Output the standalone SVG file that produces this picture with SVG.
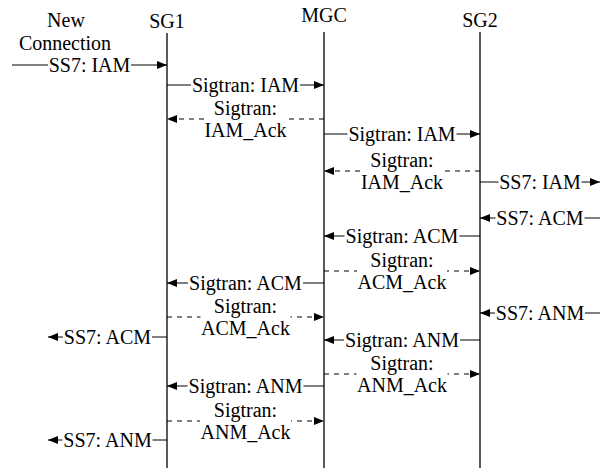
<svg xmlns="http://www.w3.org/2000/svg" width="611" height="468" viewBox="0 0 611 468">
<style>
text{font-family:"Liberation Serif","Times New Roman",serif;font-size:20px;fill:#000;text-anchor:middle}
.life{stroke:#000;stroke-width:1.3;fill:none}
.msg{stroke:#000;stroke-width:1;fill:none;marker-end:url(#ah)}
.dash{stroke-dasharray:5,5}
.bg{fill:#fff;stroke:none}
</style>
<defs>
<marker id="ah" markerUnits="userSpaceOnUse" markerWidth="10" markerHeight="8" refX="10" refY="4" orient="auto">
<path d="M0,0 L10,4 L0,8 z" fill="#000"/>
</marker>
</defs>
<rect width="611" height="468" fill="#fff"/>
<g id="node-new-connection">
<text x="66" y="27">New</text>
<text x="65" y="50">Connection</text>
</g>
<g id="node-sg1">
<text x="167" y="28">SG1</text>
<line class="life" x1="167" y1="33" x2="167" y2="468"/>
</g>
<g id="node-mgc">
<text x="324" y="22">MGC</text>
<line class="life" x1="324" y1="32" x2="324" y2="468"/>
</g>
<g id="node-sg2">
<text x="480" y="27">SG2</text>
<line class="life" x1="480" y1="32" x2="480" y2="468"/>
</g>
<g id="connectors">
<g><line class="msg" x1="12" y1="65" x2="167" y2="65"/><rect class="bg" x="48" y="55" width="83" height="20"/><text x="89.5" y="71.5">SS7: IAM</text></g>
<g><line class="msg" x1="167" y1="85" x2="324" y2="85"/><rect class="bg" x="191" y="75" width="109" height="20"/><text x="245.5" y="91.5">Sigtran: IAM</text></g>
<g><line class="msg dash" x1="324" y1="119" x2="167" y2="119"/><rect class="bg" x="204" y="100" width="84" height="42"/><text x="245.5" y="114.5">Sigtran:</text><text x="245.5" y="136.5">IAM_Ack</text></g>
<g><line class="msg" x1="324" y1="134" x2="480" y2="134"/><rect class="bg" x="347.5" y="124" width="109" height="20"/><text x="402" y="140.5">Sigtran: IAM</text></g>
<g><line class="msg dash" x1="480" y1="171" x2="324" y2="171"/><rect class="bg" x="360" y="152" width="84" height="42"/><text x="402" y="166.5">Sigtran:</text><text x="402" y="188.5">IAM_Ack</text></g>
<g><line class="msg" x1="480" y1="182" x2="600" y2="182"/><rect class="bg" x="498.5" y="172" width="83" height="20"/><text x="540" y="188.5">SS7: IAM</text></g>
<g><line class="msg" x1="600" y1="218" x2="480" y2="218"/><rect class="bg" x="495.5" y="208" width="89" height="20"/><text x="540" y="224.5">SS7: ACM</text></g>
<g><line class="msg" x1="480" y1="236" x2="324" y2="236"/><rect class="bg" x="344.5" y="226" width="115" height="20"/><text x="402" y="242.5">Sigtran: ACM</text></g>
<g><line class="msg dash" x1="324" y1="271" x2="480" y2="271"/><rect class="bg" x="357" y="252" width="90" height="42"/><text x="402" y="266.5">Sigtran:</text><text x="402" y="288.5">ACM_Ack</text></g>
<g><line class="msg" x1="324" y1="283" x2="167" y2="283"/><rect class="bg" x="188" y="273" width="115" height="20"/><text x="245.5" y="289.5">Sigtran: ACM</text></g>
<g><line class="msg dash" x1="167" y1="317" x2="324" y2="317"/><rect class="bg" x="200.5" y="298" width="90" height="42"/><text x="245.5" y="312.5">Sigtran:</text><text x="245.5" y="334.5">ACM_Ack</text></g>
<g><line class="msg" x1="600" y1="313" x2="480" y2="313"/><rect class="bg" x="495" y="303" width="90" height="20"/><text x="540" y="319.5">SS7: ANM</text></g>
<g><line class="msg" x1="167" y1="337" x2="48" y2="337"/><rect class="bg" x="63" y="327" width="89" height="20"/><text x="107.5" y="343.5">SS7: ACM</text></g>
<g><line class="msg" x1="480" y1="340" x2="324" y2="340"/><rect class="bg" x="344" y="330" width="116" height="20"/><text x="402" y="346.5">Sigtran: ANM</text></g>
<g><line class="msg dash" x1="324" y1="374" x2="480" y2="374"/><rect class="bg" x="356.5" y="355" width="91" height="42"/><text x="402" y="369.5">Sigtran:</text><text x="402" y="391.5">ANM_Ack</text></g>
<g><line class="msg" x1="324" y1="386" x2="167" y2="386"/><rect class="bg" x="187.5" y="376" width="116" height="20"/><text x="245.5" y="392.5">Sigtran: ANM</text></g>
<g><line class="msg dash" x1="167" y1="421" x2="324" y2="421"/><rect class="bg" x="200" y="402" width="91" height="42"/><text x="245.5" y="416.5">Sigtran:</text><text x="245.5" y="438.5">ANM_Ack</text></g>
<g><line class="msg" x1="167" y1="440" x2="48" y2="440"/><rect class="bg" x="62.5" y="430" width="90" height="20"/><text x="107.5" y="446.5">SS7: ANM</text></g>
</g>
</svg>
